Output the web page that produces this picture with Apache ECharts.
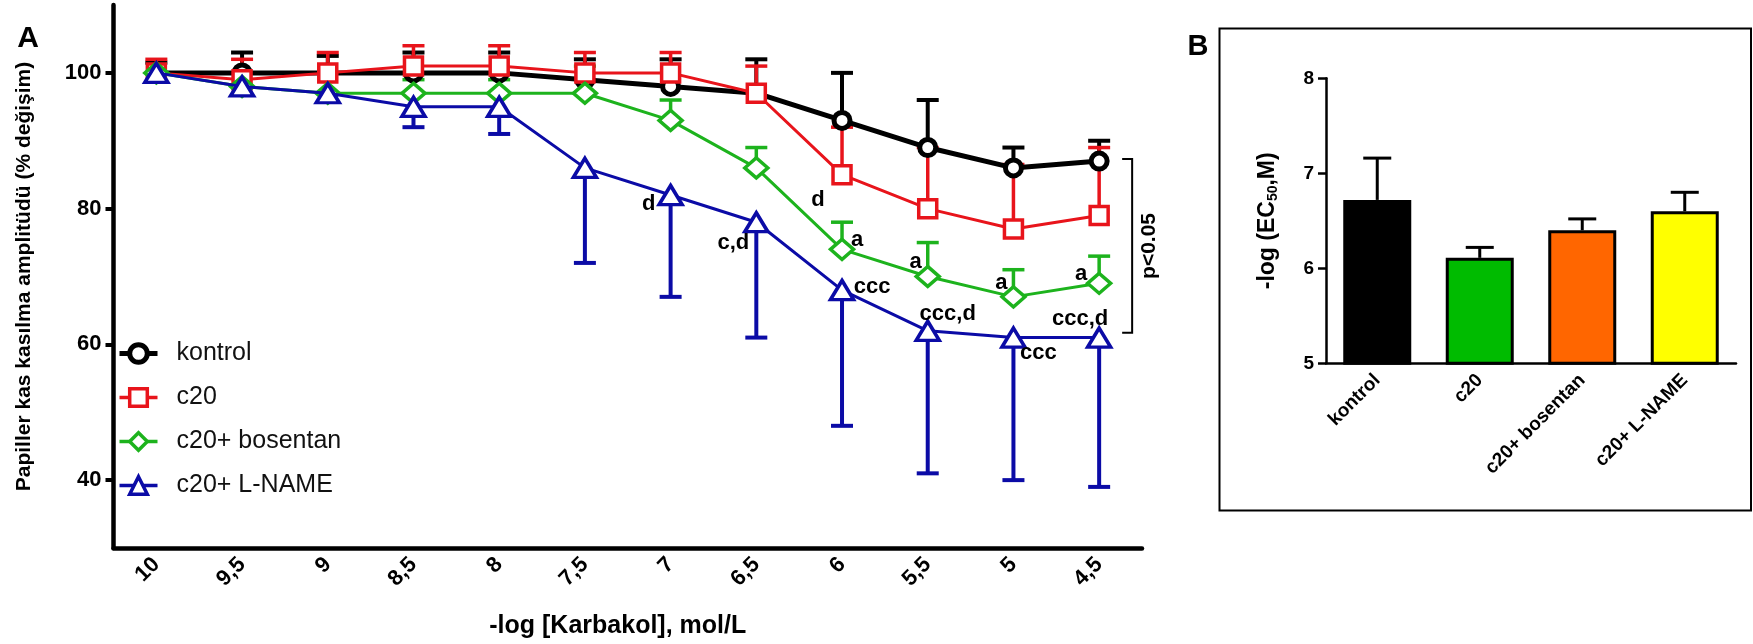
<!DOCTYPE html>
<html><head><meta charset="utf-8">
<script src="https://cdn.jsdelivr.net/npm/echarts@6/dist/echarts.min.js"></script>
<style>html,body{margin:0;padding:0;background:#fff}#c{width:1753px;height:644px}</style>
</head><body><div id="c"></div>
<script>
// ---------- Panel A data ----------
const doseLabels = ['10','9,5','9','8,5','8','7,5','7','6,5','6','5,5','5','4,5'];
const seriesNames = ['kontrol','c20','c20+ bosentan','c20+ L-NAME'];
const kontrolMean = [100,100,100,100,100,99,98,97,93,89,86,87];
const kontrolErrEnd = [101.5,103,102.5,103,103,102,102,102,100,96,89,90];
const c20Mean = [100,99,100,101,101,100,100,97,85,80,77,79];
const c20ErrEnd = [102,102,103,104,104,103,103,101,92,89,86.5,89];
const bosentanMean = [100,98,97,97,97,97,93,86,74,70,67,69];
const bosentanErrEnd = [100,98,97,99,99,101,96,89,78,75,71,73];
const lnameMean = [100,98,97,95,95,86,82,78,68,62,61,61];
const lnameErrEnd = [100,98,97,92,91,72,67,61,48,41,40,39];
const yTickValues = [40,60,80,100];
// significance letters, anchored on a series point
const annotText = ['d','c,d','d','a','ccc','a','ccc,d','a','a','ccc,d','ccc'];
const annotDose = ['7','6,5','6','6','6','5,5','5,5','5','4,5','4,5','5'];
const annotSeries = [3,3,1,2,3,2,3,2,2,3,3];
const bracketDose = '4,5';
const bracketRange = [87.3, 61.7];
const bracketText = 'p<0.05';

// ---------- Panel B data ----------
const ec50Groups = ['kontrol','c20','c20+ bosentan','c20+ L-NAME'];
const ec50Mean = [6.72, 6.11, 6.40, 6.60];
const ec50ErrEnd = [7.16, 6.22, 6.52, 6.80];

// ---------- styles / layout ----------
const FF = '"Liberation Sans", Arial, sans-serif';
const lineColors = ['#000000','#e8141b','#1db31d','#0b0ba6'];
const symbols = ['circle','rect','diamond','triangle'];
const symbolSizes = [16,18,[23,20],[23,19]];
const lineWidths = [5,3,3,3];
const borderWidths = [5,3.5,3.5,3.5];
const errWidths = [4,3.5,3.5,4];
const barColors = ['#000000','#00bb00','#ff6600','#ffff00'];
const annotOffsets = [[-22,9],[-23,21],[-24,25],[15,-9],[30,-3],[-12,-15],[20,-17],[-12,-14],[-18,-9],[-19,-19],[25,15]];

const means = [kontrolMean, c20Mean, bosentanMean, lnameMean];
const ends = [kontrolErrEnd, c20ErrEnd, bosentanErrEnd, lnameErrEnd];

function errRender(capW, lw, color) {
  return function (params, api) {
    const x = api.value(0);
    const p0 = api.coord([x, api.value(1)]);
    const p1 = api.coord([x, api.value(2)]);
    if (Math.abs(p0[1] - p1[1]) < 0.5) return null;
    return {type:'group', children:[
      {type:'line', shape:{x1:p0[0],y1:p0[1],x2:p1[0],y2:p1[1]}, style:{stroke:color,lineWidth:lw}},
      {type:'line', shape:{x1:p1[0]-capW/2,y1:p1[1],x2:p1[0]+capW/2,y2:p1[1]}, style:{stroke:color,lineWidth:lw}}
    ]};
  };
}

const series = [];
for (let s = 0; s < 4; s++) {
  series.push({
    type:'custom', xAxisIndex:0, yAxisIndex:0, z:2, silent:true,
    renderItem: errRender(22, errWidths[s], lineColors[s]),
    encode:{x:0, y:[1,2]},
    data: means[s].map((m, i) => [i, m, ends[s][i]])
  });
}
for (let s = 0; s < 4; s++) {
  series.push({
    name: seriesNames[s], type:'line', xAxisIndex:0, yAxisIndex:0, z:3 + s,
    data: means[s], symbol: symbols[s], symbolSize: symbolSizes[s],
    lineStyle:{color:lineColors[s], width:lineWidths[s]},
    itemStyle:{color:'#ffffff', borderColor:lineColors[s], borderWidth:borderWidths[s]},
    emphasis:{disabled:true}, animation:false
  });
}
series.push({
  type:'custom', xAxisIndex:0, yAxisIndex:0, z:10, silent:true,
  encode:{x:0, y:1},
  data: annotText.map((t, k) => {
    const i = doseLabels.indexOf(annotDose[k]);
    return [i, means[annotSeries[k]][i], k];
  }),
  renderItem: function (params, api) {
    const k = api.value(2);
    const p = api.coord([api.value(0), api.value(1)]);
    return {type:'text', x: p[0] + annotOffsets[k][0], y: p[1] + annotOffsets[k][1],
      style:{text: annotText[k], fill:'#000', font:'bold 22px ' + FF, align:'center', verticalAlign:'middle'}};
  }
});
series.push({
  type:'custom', xAxisIndex:0, yAxisIndex:0, z:10, silent:true,
  encode:{x:0, y:[1,2]},
  data: [[doseLabels.indexOf(bracketDose), bracketRange[0], bracketRange[1]]],
  renderItem: function (params, api) {
    const a = api.coord([api.value(0), api.value(1)]);
    const b = api.coord([api.value(0), api.value(2)]);
    const x = a[0] + 33;
    return {type:'group', children:[
      {type:'polyline', shape:{points:[[x-10,a[1]],[x,a[1]],[x,b[1]],[x-10,b[1]]]}, style:{stroke:'#000', lineWidth:2, fill:null}},
      {type:'text', x: x + 17, y: (a[1]+b[1])/2, rotation: Math.PI/2,
        style:{text: bracketText, fill:'#000', font:'bold 21px ' + FF, align:'center', verticalAlign:'middle'}}
    ]};
  }
});
series.push({
  type:'bar', xAxisIndex:1, yAxisIndex:1, barWidth:68, z:2,
  data: ec50Mean.map((v, i) => ({value:v, itemStyle:{color:barColors[i], borderColor:'#000', borderWidth:3}})),
  emphasis:{disabled:true}, animation:false
});
series.push({
  type:'custom', xAxisIndex:1, yAxisIndex:1, z:3, silent:true,
  encode:{x:0, y:[1,2]},
  renderItem: errRender(28, 3, '#000'),
  data: ec50Mean.map((m, i) => [i, m, ec50ErrEnd[i]])
});

const option = {
  animation:false,
  backgroundColor:'#ffffff',
  textStyle:{fontFamily:FF},
  grid:[
    {left:113.5, top:5, width:1028.5, height:543, containLabel:false},
    {left:1326, top:78.3, width:410, height:285, containLabel:false}
  ],
  legend:{
    data: seriesNames.map((n, s) => ({name:n,
      lineStyle:{width: s === 0 ? 5 : 3.5, color: lineColors[s]},
      itemStyle:{borderWidth: borderWidths[s], borderColor: lineColors[s], color:'#fff'}})),
    left:112, top:336, orient:'vertical', itemGap:19,
    itemWidth:38, itemHeight:22, selectedMode:false,
    textStyle:{fontSize:25, color:'#111', fontFamily:FF, padding:[0,0,0,14], lineHeight:25}
  },
  xAxis:[
    {type:'category', gridIndex:0, data:doseLabels, boundaryGap:true,
     axisLine:{onZero:false, lineStyle:{color:'#000', width:4.5}},
     axisTick:{alignWithLabel:true, length:8, lineStyle:{color:'#000', width:4}},
     axisLabel:{interval:0, rotate:45, fontSize:22, fontWeight:'bold', margin:13, color:'#000', fontFamily:FF},
     splitLine:{show:false},
     name:'-log [Karbakol], mol/L', nameLocation:'middle', nameGap:66,
     nameTextStyle:{fontSize:25, fontWeight:'bold', color:'#000', fontFamily:FF, padding:[0,20,0,0]}},
    {type:'category', gridIndex:1, data:ec50Groups, boundaryGap:true,
     axisLine:{onZero:false, lineStyle:{color:'#000', width:2.5}},
     axisTick:{alignWithLabel:true, length:8, lineStyle:{color:'#000', width:2.5}},
     axisLabel:{interval:0, rotate:45, fontSize:19, fontWeight:'bold', margin:14, color:'#000', fontFamily:FF},
     splitLine:{show:false}}
  ],
  yAxis:[
    {type:'value', gridIndex:0, min:30, max:110, interval:10,
     axisLine:{show:true, lineStyle:{color:'#000', width:4.5}},
     axisTick:{show:true, length:8, customValues:yTickValues, lineStyle:{color:'#000', width:4}},
     axisLabel:{customValues:yTickValues, fontSize:22, fontWeight:'bold', color:'#000', margin:12, fontFamily:FF},
     splitLine:{show:false},
     name:'Papiller kas kasılma amplitüdü (% değişim)', nameLocation:'middle', nameGap:79,
     nameTextStyle:{fontSize:21, fontWeight:'bold', color:'#000', fontFamily:FF}},
    {type:'value', gridIndex:1, min:5, max:8, interval:1,
     axisLine:{show:true, lineStyle:{color:'#000', width:2.5}},
     axisTick:{show:true, length:8, lineStyle:{color:'#000', width:2.5}},
     axisLabel:{fontSize:19, fontWeight:'bold', color:'#000', margin:12, fontFamily:FF},
     splitLine:{show:false},
     name:'-log (EC{sub|50},M)', nameLocation:'middle', nameGap:46,
     nameTextStyle:{fontSize:23, fontWeight:'bold', color:'#000', fontFamily:FF,
       rich:{sub:{fontSize:14, fontWeight:'bold', fontFamily:FF, padding:[11,0,0,0]}}}}
  ],
  graphic:[
    {type:'rect', shape:{x:1219.5, y:28.5, width:1751 - 1219.5, height:482}, style:{fill:null, stroke:'#000', lineWidth:2}, silent:true, z:0},
    {type:'text', x:28, y:39, style:{text:'A', font:'bold 30px ' + FF, fill:'#000', align:'center', verticalAlign:'middle',
      shadowColor:'rgba(0,0,0,0.35)', shadowBlur:3, shadowOffsetX:1, shadowOffsetY:2}},
    {type:'text', x:1198, y:47, style:{text:'B', font:'bold 29px ' + FF, fill:'#000', align:'center', verticalAlign:'middle',
      shadowColor:'rgba(0,0,0,0.35)', shadowBlur:3, shadowOffsetX:1, shadowOffsetY:2}}
  ],
  series: series
};
const chart = echarts.init(document.getElementById('c'), null, {renderer:'canvas'});
chart.setOption(option);
</script>
</body></html>
